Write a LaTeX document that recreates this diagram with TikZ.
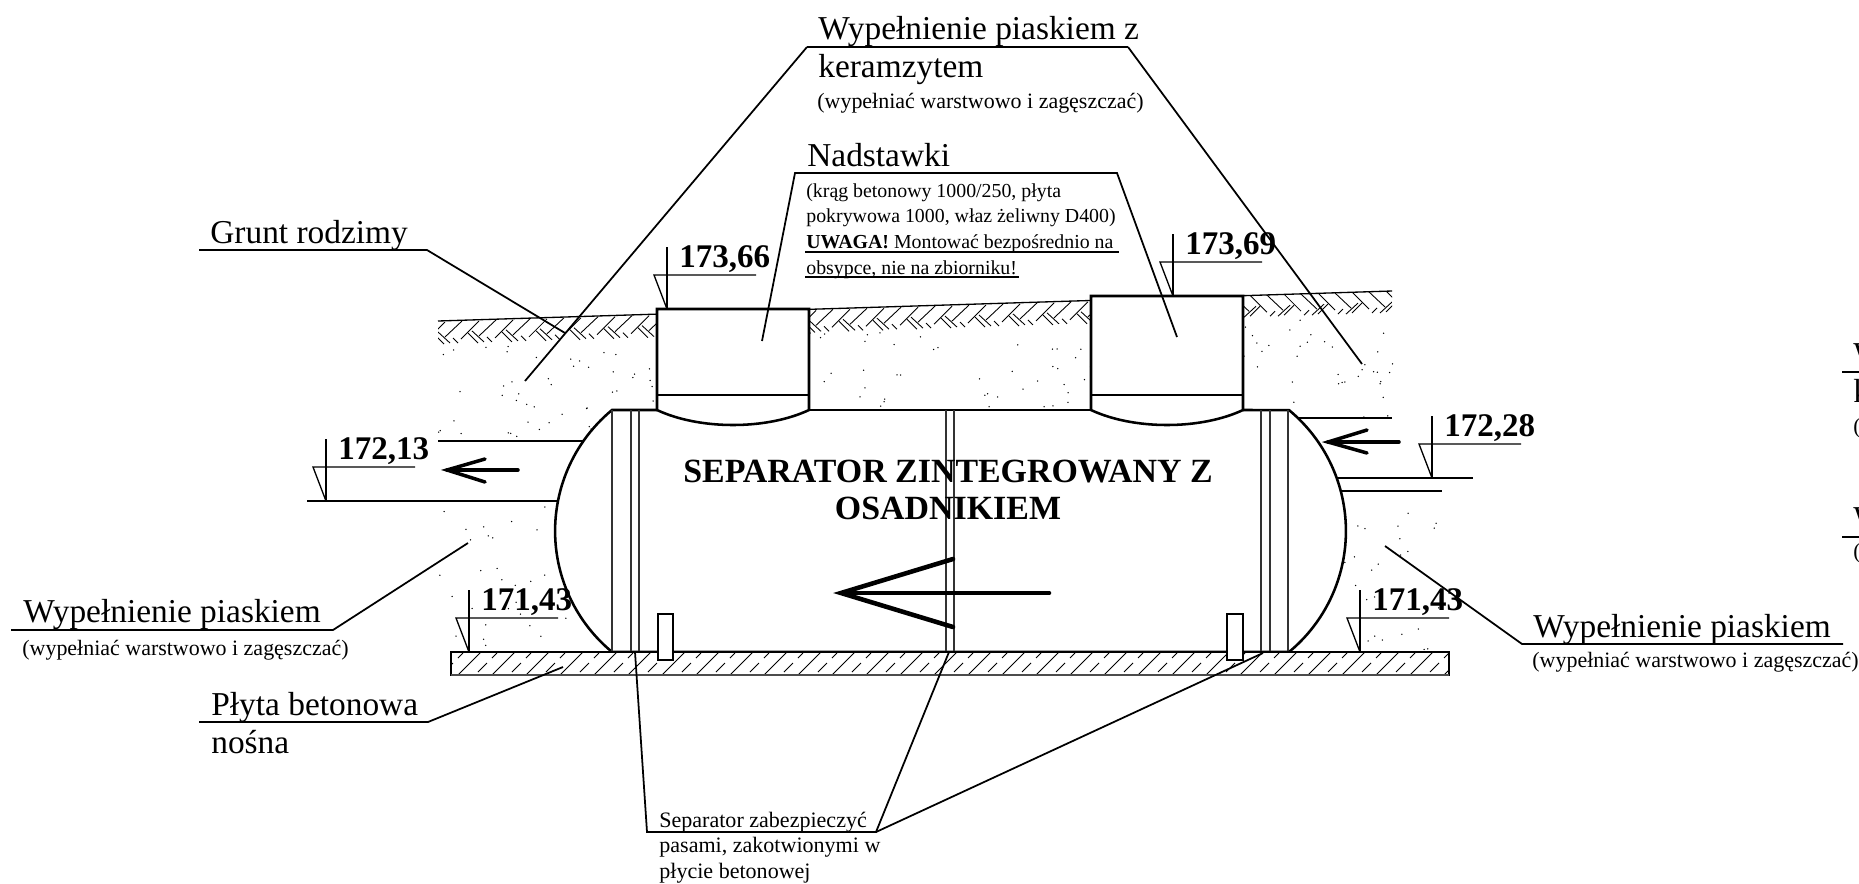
\documentclass[tikz,border=0pt]{standalone}
\usepackage{fontspec}
\setmainfont{Liberation Serif}
\usetikzlibrary{calc,
	positioning}

\begin{document}
\begin{tikzpicture}[x=0.02cm,y=-0.02cm,
	bigtext/.style={font=\fontsize{19}{22}\selectfont,inner sep=0,anchor=base west},
	midtext/.style={font=\fontsize{12.5}{15}\selectfont,inner sep=0,anchor=base west},
	sidetext/.style={font=\fontsize{12.55}{15}\selectfont,inner sep=0,anchor=base west},
	notetext/.style={font=\fontsize{11.3}{13}\selectfont,inner sep=0,anchor=base west},
	leveltext/.style={font=\fontsize{18.8}{22}\selectfont\bfseries,inner sep=0,anchor=base west},
	titletext/.style={font=\fontsize{19.3}{22}\selectfont\bfseries,inner sep=0,anchor=base},
	wall/.style={line width=1.45pt},
	strap/.style={line width=0.8pt,black!80},
	leader/.style={line width=1pt},
	hatch/.style={line width=0.5pt},
	thin line/.style={line width=0.75pt},
	flow/.style={line width=2pt,line cap=round},
	bigflow/.style={line width=2.6pt,line cap=round}]
	\useasboundingbox (0,0) rectangle (1859,883);
	\fill[white] (0,0) rectangle (1859,883);

	\pgfmathsetseed{4711}
	\foreach \xa/\ya/\w/\h/\n in {438/345/219/95/50,809/330/282/80/42,1243/320/150/98/36,438/503/190/149/48,1285/493/155/159/36} {
		\foreach \idx in {1,...,\n} {
			\pgfmathsetmacro{\px}{\xa+rnd*\w}
			\pgfmathsetmacro{\py}{\ya+rnd*\h}
			\fill (\px,\py) circle (0.75);
		}
	}

	\foreach \xa/\xb/\sgn/\n in {438/657/1/7,809/1091/1/9,1243/1392/-1/5} {
		\pgfmathsetmacro{\ya}{321-0.03145*(\xa-438)}
		\pgfmathsetmacro{\yb}{321-0.03145*(\xb-438)}
		\begin{scope}
			\clip (\xa,\ya) -- (\xb,\yb) -- (\xb,\yb+24) -- (\xa,\ya+24) -- cycle;
			\foreach \idx in {-1,0,...,\n} {
				\pgfmathsetmacro{\x}{\sgn>0 ? \xa+\idx*34 : \xb-\idx*34}
				\pgfmathsetmacro{\y}{321-0.03145*(\x-438)}
				\draw[hatch,shift={(\x,\y)},xscale=\sgn] (7,16) -- (24,0) (23,18) -- (41,0);
				\draw[hatch,shift={(\x,\y)},xscale=\sgn] (0,11) -- (12,22) (15,17) -- (20,22) (30,12) -- (40,22);
			}
		\end{scope}
	}
	\draw[thin line] (438,321) -- (1392,291);

	\fill[white] (612,652) arc[start angle=129.6,end angle=230.4,radius=157] -- (1289,410) arc[start angle=-50.4,end angle=50.4,radius=157] -- cycle;
	\draw[wall] (657,410) -- (612,410) arc[start angle=230.4,end angle=129.6,radius=157] -- (1289,652) arc[start angle=50.4,end angle=-50.4,radius=157] -- (1243,410);
	\draw[wall] (809,410) -- (1091,410);
	\foreach \xa/\xb/\ya in {657/809/309,1091/1243/296} {
		\pgfmathsetmacro{\xc}{\xa+0.28*(\xb-\xa)}
		\pgfmathsetmacro{\xd}{\xa+0.72*(\xb-\xa)}
		\draw[wall,fill=white] (\xa,410) -- (\xa,\ya) -- (\xb,\ya) -- (\xb,410) .. controls (\xd,430) and (\xc,430) .. cycle;
		\draw[wall] (\xa,395) -- (\xb,395);
	}

	\foreach \x in {612,631,639,946,954,1261,1270,1288} {
		\draw[strap] (\x,410) -- (\x,652);
	}

	\draw[thin line,fill=white] (451,652) rectangle (1449,675);
	\begin{scope}
		\clip (451,652) rectangle (1449,675);
		\foreach \idx in {-1,0,...,29} {
			\pgfmathsetmacro{\x}{458+\idx*34}
			\draw[hatch] (\x,675) -- (\x+23,652);
			\draw[hatch] (\x+20,672) -- (\x+29,663) (\x+34,658) -- (\x+39,653);
		}
	\end{scope}
	\draw[thin line,draw=black!70] (451,675) -- (1449,675);
	\draw[wall] (612,652) -- (1289,652);
	\draw[wall,fill=white] (658,614) rectangle (673,660);
	\draw[wall,fill=white] (1227,614) rectangle (1243,660);

	\draw[wall] (438,441) -- (583,441);
	\draw[wall] (438,501) -- (557,501);
	\draw[thin line] (307,501) -- (438,501);
	\draw[wall] (1299,418) -- (1392,418);
	\draw[wall] (1338,478) -- (1392,478);
	\draw[thin line] (1392,478) -- (1473,478);
	\draw[wall] (1342,491) -- (1442,491);

	\foreach \x/\y/\val in {326/501/{172,13},667/309/{173,66},1173/296/{173,69},1432/478/{172,28},469/652/{171,43},1360/652/{171,43}} {
		\draw[thin line] (\x,\y) -- (\x,\y-62);
		\draw[thin line] (\x,\y) -- (\x-13,\y-34) -- (\x+89,\y-34);
		\node[leveltext] at (\x+12,\y-42) {\val};
	}

	\coordinate (outtip) at (447,470);
	\coordinate (outtail) at (518,470);
	\coordinate (intip) at (1328,442);
	\coordinate (intail) at (1399,442);
	\coordinate (maintip) at (841,593);
	\coordinate (maintail) at (1049,593);
	\draw[flow] (outtail) -- (outtip);
	\draw[flow] (485,459) -- (outtip) -- (485,482);
	\draw[flow] (intail) -- (intip);
	\draw[flow] (1367,430) -- (intip) -- (1367,453);
	\draw[bigflow] (maintail) -- (maintip);
	\draw[bigflow] (953,559) -- (maintip) -- (953,627);

	\node[titletext] (title1) at (948,482) {SEPARATOR ZINTEGROWANY Z};
	\node[titletext] (title2) at (948,519) {OSADNIKIEM};

	\node[bigtext] (fill1) at (818,39) {Wypełnienie piaskiem z};
	\node[bigtext] (fill2) at (818,77) {keramzytem};
	\node[midtext] (fill3) at (817,108) {(wypełniać warstwowo i zagęszczać)};
	\node[bigtext] (cap) at (807,166) {Nadstawki};
	\node[notetext] (cap1) at (806,197) {(krąg betonowy 1000/250, płyta};
	\node[notetext] (cap2) at (806,222) {pokrywowa 1000, właz żeliwny D400)};
	\node[notetext] (cap3) at (806,248) {\textbf{UWAGA!} Montować bezpośrednio na};
	\node[notetext] (cap4) at (806,274) {obsypce, nie na zbiorniku!};
	\node[bigtext] (soil) at (210,243) {Grunt rodzimy};
	\node[bigtext] (sandl) at (23,622) {Wypełnienie piaskiem};
	\node[midtext] (sandl2) at (22,655) {(wypełniać warstwowo i zagęszczać)};
	\node[bigtext] (slab) at (211,715) {Płyta betonowa};
	\node[bigtext] (slab2) at (211,753) {nośna};
	\node[bigtext] (sandr) at (1533,637) {Wypełnienie piaskiem};
	\node[midtext] (sandr2) at (1532,667) {(wypełniać warstwowo i zagęszczać)};
	\node[sidetext] (belt1) at (659,827) {Separator zabezpieczyć};
	\node[sidetext] (belt2) at (659,852) {pasami, zakotwionymi w};
	\node[sidetext] (belt3) at (659,878) {płycie betonowej};
	\node[bigtext] (cut1) at (1853,365) {W};
	\node[bigtext] (cut2) at (1853,402) {k};
	\node[midtext] (cut3) at (1853,433) {(};
	\node[bigtext] (cut4) at (1853,529) {W};
	\node[midtext] (cut5) at (1853,558) {(};

	\draw[leader] (807,47) -- (1128,47);
	\draw[leader] (525,381) -- (807,47);
	\draw[leader] (1128,47) -- (1362,364);
	\draw[leader] (762,341) -- (795,173) -- (1117,173) -- (1177,337);
	\draw[leader] (805,252) -- (1119,252);
	\draw[leader] (805,277) -- (1019,277);
	\draw[leader] (199,250) -- (427,250) -- (565,333);
	\draw[leader] (11,630) -- (333,630) -- (468,543);
	\draw[leader] (199,722) -- (428,722) -- (563,667);
	\draw[leader] (1843,644) -- (1522,644) -- (1385,546);
	\draw[leader] (1842,372) -- (1859,372);
	\draw[leader] (1842,537) -- (1859,537);
	\draw[leader] (635,652) -- (647,832) -- (876,832) -- (949,652);
	\draw[leader] (876,832) -- (1263,653);
\end{tikzpicture}
\end{document}
